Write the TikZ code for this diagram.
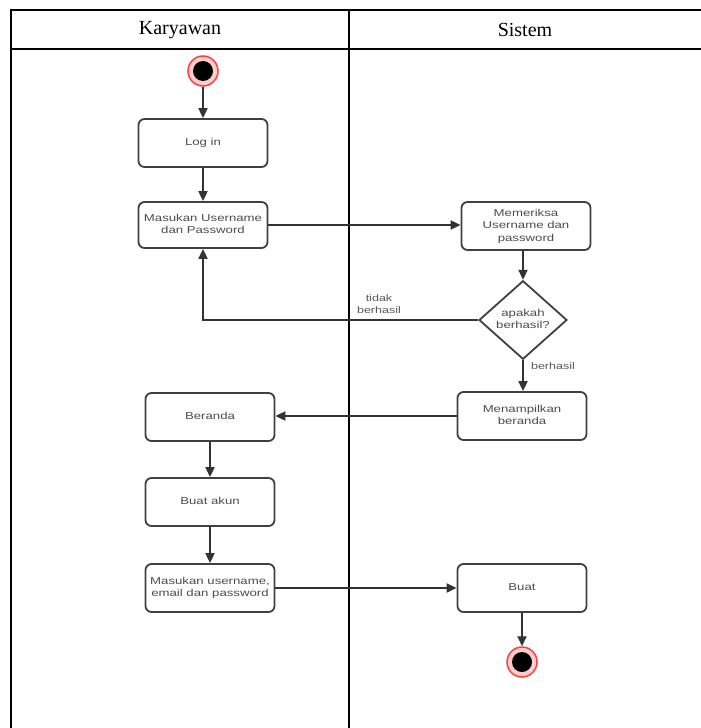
\documentclass[tikz,border=0pt]{standalone}
\usepackage{fontspec}
\setmainfont{Liberation Serif}
\newfontfamily\arialf{Liberation Sans}
\usetikzlibrary{shapes.geometric,arrows.meta}
\newcommand{\btxt}[1]{\scalebox{1.32}[1]{\begin{tabular}{@{}c@{}}#1\end{tabular}}}
\begin{document}
\begin{tikzpicture}[x=1pt,y=-1pt,
  act/.style={draw=black!75, line width=1.8pt, rounded corners=6pt, fill=white,
    minimum width=129pt, minimum height=48pt, inner sep=0pt,
    font=\arialf\fontsize{10}{12.5}\selectfont, text=black!70},
  dec/.style={diamond, draw=black!75, line width=1.8pt, fill=white,
    minimum width=88pt, minimum height=71pt, inner sep=0pt,
    font=\arialf\fontsize{10}{12.5}\selectfont, text=black!70},
  lbl/.style={font=\arialf\fontsize{9.5}{12.5}\selectfont, text=black!65, inner sep=0pt, align=center},
  flow/.style={-{Triangle[length=10pt,width=9pt]}, draw=black!80, line width=1.9pt},
  term/.style={circle, draw=red!75, fill=red!20, line width=1.5pt, minimum size=30pt, inner sep=0pt,
    path picture={\fill[black] (path picture bounding box.center) circle (10pt);}},
  grid/.style={line width=1.8pt, draw=black},
  head/.style={font=\fontsize{20}{23}\selectfont, inner sep=0pt}
]
\useasboundingbox (0,0) rectangle (701,728);
% table
\draw[grid] (701,10) -- (11,10) -- (11,728);
\draw[grid] (11,49) -- (701,49);
\draw[grid] (349,10) -- (349,728);
\node[head] (hk) at (180,30) {Karyawan};
\node[head] (hs) at (525,30) {Sistem};
% nodes
\node[term] (start) at (203,71) {};
\node[act] (login) at (203,143) {\btxt{Log in}};
\node[act, minimum height=46pt] (masuk1) at (203,225) {\btxt{Masukan Username\\dan Password}};
\node[act] (cek) at (526,226) {\btxt{Memeriksa\\Username dan\\password}};
\node[dec] (dec) at (523,320) {\btxt{apakah\\berhasil?}};
\node[act] (tampil) at (522,416) {\btxt{Menampilkan\\beranda}};
\node[act] (beranda) at (210,417) {\btxt{Beranda}};
\node[act] (akun) at (210,502) {\btxt{Buat akun}};
\node[act] (masuk2) at (210,588) {\btxt{Masukan username,\\email dan password}};
\node[act] (buat) at (522,588) {\btxt{Buat}};
\node[term] (end) at (522,662) {};
% connectors
\draw[flow] (start) -- (login);
\draw[flow] (login) -- (masuk1);
\draw[flow] (masuk1.east) -- (masuk1.east -| cek.west);
\draw[flow] (dec.north |- cek.south) -- (dec.north);
\draw[flow] (dec.south) -- (dec.south |- tampil.north);
\draw[flow] (dec.west) -| (masuk1.south);
\draw[flow] (tampil.west) -- (tampil.west -| beranda.east);
\draw[flow] (beranda) -- (akun);
\draw[flow] (akun) -- (masuk2);
\draw[flow] (masuk2.east) -- (masuk2.east -| buat.west);
\draw[flow] (buat) -- (end);
% labels
\node[lbl] (ltb) at (379,305) {\btxt{tidak\\berhasil}};
\node[lbl] (lb) at (553,367) {\btxt{berhasil}};
\end{tikzpicture}
\end{document}
